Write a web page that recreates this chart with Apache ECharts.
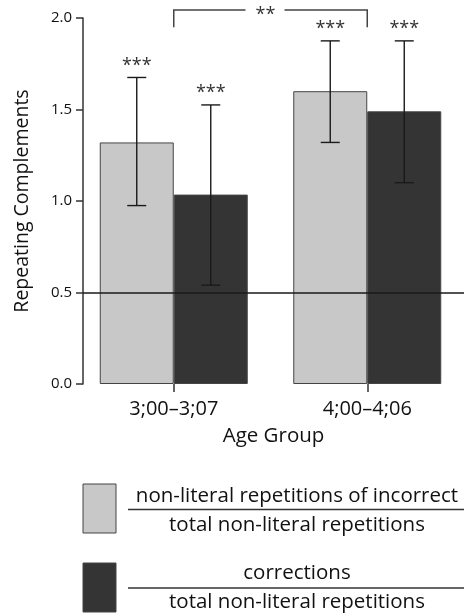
<!DOCTYPE html>
<html>
<head>
<meta charset="utf-8">
<script src="https://cdn.jsdelivr.net/npm/echarts@6/dist/echarts.min.js"></script>
<style>
html,body{margin:0;padding:0;background:#fff;}
#chart{width:464px;height:615px;}
</style>
</head>
<body>
<div id="chart"></div>
<script>
// ---- data ----
const categories = ['3;00–3;07', '4;00–4;06'];
const seriesNames = ['non-literal repetitions of incorrect / total non-literal repetitions',
                     'corrections / total non-literal repetitions'];
const incorrectValues = [1.32, 1.60];
const incorrectLow = [0.975, 1.32];
const incorrectHigh = [1.675, 1.875];
const correctionValues = [1.035, 1.49];
const correctionLow = [0.54, 1.10];
const correctionHigh = [1.525, 1.875];
const incorrectSig = ['***', '***'];
const correctionSig = ['***', '***'];
const groupSig = { from: 0, to: 1, label: '**', top: 2.044, bottom: 1.95 };
const yMin = 0, yMax = 2, yStep = 0.5;
const refLine = 0.5;
const legendLines = [
  ['non-literal repetitions of incorrect', 'total non-literal repetitions'],
  ['corrections', 'total non-literal repetitions']
];

// ---- style ----
const FONT = 'Open Sans';
const LIGHT = '#c8c8c8';
const DARK = '#343434';
const INK = '#111';
const BAR_W = 74;

const chart = echarts.init(document.getElementById('chart'));

function errData(low, high, sig, side) {
  return categories.map((c, i) => [i, low[i], high[i], side, sig[i]]);
}

function renderErr(params, api) {
  const cat = api.value(0);
  const side = api.value(3);
  const x = api.coord([cat, 0])[0] + side * BAR_W / 2;
  const yl = api.coord([cat, api.value(1)])[1];
  const yh = api.coord([cat, api.value(2)])[1];
  const cap = 9.5;
  const ls = { stroke: '#1a1a1a', lineWidth: 1.4 };
  return {
    type: 'group',
    children: [
      { type: 'line', shape: { x1: x, y1: yl, x2: x, y2: yh }, style: ls },
      { type: 'line', shape: { x1: x - cap, y1: yh, x2: x + cap, y2: yh }, style: ls },
      { type: 'line', shape: { x1: x - cap, y1: yl, x2: x + cap, y2: yl }, style: ls },
      { type: 'text', x: x, y: yh - 3, style: { text: api.value(4), fill: '#333', font: '18px "' + FONT + '"', align: 'center', verticalAlign: 'bottom' } }
    ]
  };
}

function renderBracket(params, api) {
  const x1 = api.coord([api.value(0), 0])[0];
  const x2 = api.coord([api.value(1), 0])[0];
  const yt = api.coord([0, api.value(2)])[1];
  const yb = api.coord([0, api.value(3)])[1];
  const mid = (x1 + x2) / 2 - 5;
  const ls = { stroke: '#444', lineWidth: 1.5, fill: null };
  return {
    type: 'group',
    children: [
      { type: 'polyline', shape: { points: [[x1, yb], [x1, yt], [mid - 20, yt]] }, style: ls },
      { type: 'polyline', shape: { points: [[mid + 19, yt], [x2, yt], [x2, yb]] }, style: ls },
      { type: 'text', x: mid, y: yt + 5, style: { text: api.value(4), fill: '#333', font: '18px "' + FONT + '"', align: 'center', verticalAlign: 'middle' } }
    ]
  };
}

const option = {
  backgroundColor: '#fff',
  animation: false,
  grid: { left: 77, right: -9, top: 18, bottom: 231 },
  xAxis: {
    type: 'category',
    data: categories,
    axisLine: { show: false },
    axisTick: { show: true, alignWithLabel: true, length: 8, lineStyle: { color: '#333', width: 1.5 } },
    axisLabel: { fontFamily: FONT, fontSize: 20, color: INK, margin: 15 },
    name: 'Age Group',
    nameLocation: 'middle',
    nameGap: 42,
    nameTextStyle: { fontFamily: FONT, fontSize: 20.5, color: INK, padding: [0, 0, 0, 6] }
  },
  yAxis: {
    type: 'value',
    min: yMin, max: yMax, interval: yStep,
    offset: -6,
    axisLine: { show: true, lineStyle: { color: '#333', width: 1.5 } },
    axisTick: { show: true, length: 7, lineStyle: { color: '#333', width: 1.5 } },
    axisLabel: { fontFamily: FONT, fontSize: 15, color: INK, margin: 11, formatter: v => v.toFixed(1) },
    splitLine: { show: false },
    name: 'Repeating Complements',
    nameLocation: 'middle',
    nameGap: 51,
    nameTextStyle: { fontFamily: FONT, fontSize: 19.5, color: INK }
  },
  series: [
    {
      name: seriesNames[0], type: 'bar', data: incorrectValues, barWidth: BAR_W, barGap: '0%',
      itemStyle: { color: LIGHT, borderColor: '#444', borderWidth: 1 }
    },
    {
      name: seriesNames[1], type: 'bar', data: correctionValues, barWidth: BAR_W, barGap: '0%',
      itemStyle: { color: DARK, borderColor: '#444', borderWidth: 1 },
      markLine: {
        silent: true, symbol: 'none', z: 10,
        lineStyle: { color: '#1a1a1a', width: 1.5, type: 'solid' },
        label: { show: false },
        data: [[{ yAxis: refLine, x: 83 }, { yAxis: refLine, x: 464 }]]
      }
    },
    {
      type: 'custom', name: 'err1', renderItem: renderErr, z: 5, clip: false,
      data: errData(incorrectLow, incorrectHigh, incorrectSig, -1)
    },
    {
      type: 'custom', name: 'err2', renderItem: renderErr, z: 5, clip: false,
      data: errData(correctionLow, correctionHigh, correctionSig, 1)
    },
    {
      type: 'custom', name: 'bracket', renderItem: renderBracket, z: 5, clip: false,
      data: [[groupSig.from, groupSig.to, groupSig.top, groupSig.bottom, groupSig.label]]
    }
  ],
  graphic: [
    { type: 'rect', shape: { x: 83, y: 484, width: 33, height: 49 }, style: { fill: LIGHT, stroke: '#444', lineWidth: 1 } },
    { type: 'rect', shape: { x: 83, y: 563, width: 33, height: 49 }, style: { fill: DARK, stroke: '#444', lineWidth: 1 } },
    { type: 'line', shape: { x1: 128, y1: 509.5, x2: 464, y2: 509.5 }, style: { stroke: '#333', lineWidth: 1.5 } },
    { type: 'line', shape: { x1: 128, y1: 588, x2: 464, y2: 588 }, style: { stroke: '#333', lineWidth: 1.5 } },
    { type: 'text', x: 297, y: 496, style: { text: legendLines[0][0], font: '20.5px "' + FONT + '"', fill: INK, align: 'center', verticalAlign: 'middle' } },
    { type: 'text', x: 297, y: 525, style: { text: legendLines[0][1], font: '20.5px "' + FONT + '"', fill: INK, align: 'center', verticalAlign: 'middle' } },
    { type: 'text', x: 297, y: 573, style: { text: legendLines[1][0], font: '20.5px "' + FONT + '"', fill: INK, align: 'center', verticalAlign: 'middle' } },
    { type: 'text', x: 297, y: 602, style: { text: legendLines[1][1], font: '20.5px "' + FONT + '"', fill: INK, align: 'center', verticalAlign: 'middle' } }
  ]
};
chart.setOption(option);
</script>
</body>
</html>
